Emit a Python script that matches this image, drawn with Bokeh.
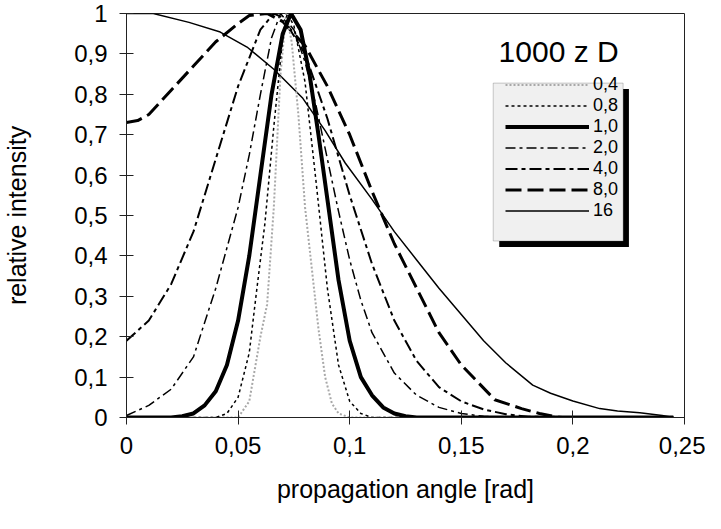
from bokeh.plotting import figure
from bokeh.models import Range1d, FixedTicker, Legend, LegendItem, BoxAnnotation, Label
from bokeh.embed import file_html
from bokeh.resources import INLINE

# ---- data ----
x_ticks = [0, 0.05, 0.1, 0.15, 0.2, 0.25]
x_tick_labels = ["0", "0,05", "0,1", "0,15", "0,2", "0,25"]
y_ticks = [0, 0.1, 0.2, 0.3, 0.4, 0.5, 0.6, 0.7, 0.8, 0.9, 1.0]
y_tick_labels = ["0", "0,1", "0,2", "0,3", "0,4", "0,5", "0,6", "0,7", "0,8", "0,9", "1"]

series_labels = ["0,4", "0,8", "1,0", "2,0", "4,0", "8,0", "16"]

angle_04 = [0, 0.05, 0.055, 0.06, 0.063, 0.066, 0.069, 0.0715, 0.074, 0.077, 0.08, 0.083, 0.086, 0.089, 0.092, 0.095, 0.1, 0.245]
int_04 = [0, 0, 0.04, 0.2, 0.28, 0.52, 0.85, 1.0, 0.93, 0.75, 0.52, 0.37, 0.22, 0.1, 0.035, 0.01, 0, 0]

angle_08 = [0, 0.04, 0.045, 0.05, 0.055, 0.058, 0.062, 0.066, 0.07, 0.072, 0.075, 0.08, 0.085, 0.09, 0.095, 0.1, 0.105, 0.11, 0.245]
int_08 = [0, 0, 0.01, 0.05, 0.16, 0.30, 0.48, 0.72, 0.94, 1.0, 0.97, 0.83, 0.58, 0.32, 0.13, 0.04, 0.01, 0, 0]

angle_10 = [0, 0.02, 0.025, 0.03, 0.035, 0.04, 0.045, 0.05, 0.055, 0.06, 0.065, 0.07, 0.0737, 0.078, 0.082, 0.086, 0.09, 0.095, 0.1, 0.105, 0.11, 0.115, 0.12, 0.125, 0.13, 0.245]
int_10 = [0, 0, 0.003, 0.01, 0.03, 0.065, 0.13, 0.24, 0.40, 0.60, 0.80, 0.95, 1.0, 0.96, 0.85, 0.70, 0.54, 0.34, 0.19, 0.10, 0.055, 0.025, 0.01, 0.003, 0, 0]

angle_20 = [0, 0.01, 0.02, 0.03, 0.04, 0.05, 0.055, 0.06, 0.065, 0.069, 0.075, 0.08, 0.085, 0.09, 0.095, 0.1, 0.105, 0.11, 0.12, 0.13, 0.14, 0.15, 0.16, 0.17, 0.245]
int_20 = [0.005, 0.03, 0.07, 0.15, 0.32, 0.52, 0.65, 0.80, 0.94, 1.0, 0.96, 0.88, 0.77, 0.64, 0.51, 0.39, 0.29, 0.21, 0.11, 0.055, 0.025, 0.01, 0.003, 0, 0]

angle_40 = [0, 0.01, 0.02, 0.03, 0.04, 0.05, 0.06, 0.066, 0.07, 0.08, 0.09, 0.1, 0.11, 0.12, 0.13, 0.14, 0.15, 0.16, 0.17, 0.18, 0.245]
int_40 = [0.19, 0.24, 0.33, 0.46, 0.64, 0.82, 0.96, 1.0, 0.99, 0.90, 0.74, 0.55, 0.38, 0.24, 0.14, 0.075, 0.04, 0.02, 0.008, 0.002, 0]

angle_80 = [0, 0.005, 0.01, 0.015, 0.02, 0.03, 0.04, 0.05, 0.055, 0.063, 0.07, 0.08, 0.09, 0.1, 0.11, 0.12, 0.13, 0.14, 0.15, 0.165, 0.177, 0.185, 0.194, 0.245]
int_80 = [0.73, 0.735, 0.75, 0.78, 0.81, 0.87, 0.93, 0.975, 0.995, 1.0, 0.98, 0.92, 0.82, 0.70, 0.56, 0.43, 0.32, 0.21, 0.13, 0.044, 0.022, 0.01, 0, 0]

angle_16 = [0, 0.012, 0.028, 0.042, 0.054, 0.066, 0.079, 0.089, 0.098, 0.11, 0.12, 0.13, 0.14, 0.15, 0.16, 0.17, 0.182, 0.19, 0.2, 0.212, 0.22, 0.23, 0.24, 0.245]
int_16 = [1.0, 1.0, 0.978, 0.954, 0.917, 0.862, 0.79, 0.71, 0.63, 0.54, 0.46, 0.39, 0.32, 0.255, 0.19, 0.135, 0.08, 0.06, 0.041, 0.022, 0.016, 0.012, 0.005, 0]

FONT = "Liberation Sans"

p = figure(width=705, height=505, output_backend="svg", toolbar_location=None,
           x_range=Range1d(0, 0.25), y_range=Range1d(0, 1.0),
           min_border_left=121, min_border_top=13, min_border_right=21, min_border_bottom=80)
p.background_fill_color = "white"
p.border_fill_color = "white"
p.outline_line_color = "#222222"
p.outline_line_width = 1
p.xgrid.visible = False
p.ygrid.visible = False

for ax in (p.xaxis[0], p.yaxis[0]):
    ax.axis_line_color = "#222222"
    ax.major_tick_line_color = "#222222"
    ax.minor_tick_line_color = None
    ax.major_tick_in = 7
    ax.major_tick_out = 7
    ax.major_label_text_font = FONT
    ax.major_label_text_font_size = "24px"
    ax.major_label_text_color = "black"
    ax.axis_label_text_font = FONT
    ax.axis_label_text_font_size = "25px"
    ax.axis_label_text_font_style = "normal"
    ax.axis_label_text_color = "black"

p.xaxis.ticker = FixedTicker(ticks=x_ticks)
p.xaxis.major_label_overrides = {t: l for t, l in zip(x_ticks, x_tick_labels)}
p.yaxis.ticker = FixedTicker(ticks=y_ticks)
p.yaxis.major_label_overrides = {t: l for t, l in zip(y_ticks, y_tick_labels)}
p.xaxis.axis_label = "propagation angle [rad]"
p.yaxis.axis_label = "relative intensity"
p.xaxis.major_label_standoff = 12
p.xaxis.axis_label_standoff = 18
p.yaxis.major_label_standoff = 12
p.yaxis.axis_label_standoff = 40

# legend box with shadow (drawn behind)
shadow = BoxAnnotation(left=0.1670, right=0.2251, bottom=0.4223, top=0.8131,
                       fill_color="black", fill_alpha=1.0, line_alpha=0, level="underlay")
box = BoxAnnotation(left=0.1643, right=0.2225, bottom=0.4369, top=0.8277,
                    fill_color="#f0f0f0", fill_alpha=1.0, line_color="#555555", line_width=1,
                    level="underlay")
p.add_layout(shadow)
p.add_layout(box)

styles = [
    dict(line_color="#a8a8a8", line_width=2, line_dash="2 2"),
    dict(line_color="black", line_width=1.5, line_dash="3 3"),
    dict(line_color="black", line_width=4),
    dict(line_color="black", line_width=1.5, line_dash="10 4 3 4"),
    dict(line_color="black", line_width=2, line_dash="12 4 4 4"),
    dict(line_color="black", line_width=3, line_dash="16 6"),
    dict(line_color="black", line_width=1.5),
]
xs = [angle_04, angle_08, angle_10, angle_20, angle_40, angle_80, angle_16]
ys = [int_04, int_08, int_10, int_20, int_40, int_80, int_16]

renderers = {}
draw_order = [6, 5, 4, 3, 0, 1, 2]
for i in draw_order:
    renderers[i] = p.line(xs[i], ys[i], line_join="round", **styles[i])

items = [LegendItem(label=series_labels[i], renderers=[renderers[i]]) for i in range(7)]
legend = Legend(items=items, location=(371, 188), orientation="vertical",
                border_line_alpha=0, background_fill_alpha=0,
                padding=8, spacing=0, margin=0,
                glyph_width=84, glyph_height=21, label_height=21, label_standoff=4,
                label_text_font=FONT, label_text_font_size="18px",
                label_text_color="black", label_text_baseline="middle")
p.add_layout(legend)

title = Label(x=0.1936, y=0.905, text="1000 z D", text_font=FONT, text_font_size="30px",
              text_align="center", text_baseline="middle", text_color="black")
p.add_layout(title)

open("out.html", "w").write(file_html(p, INLINE))
